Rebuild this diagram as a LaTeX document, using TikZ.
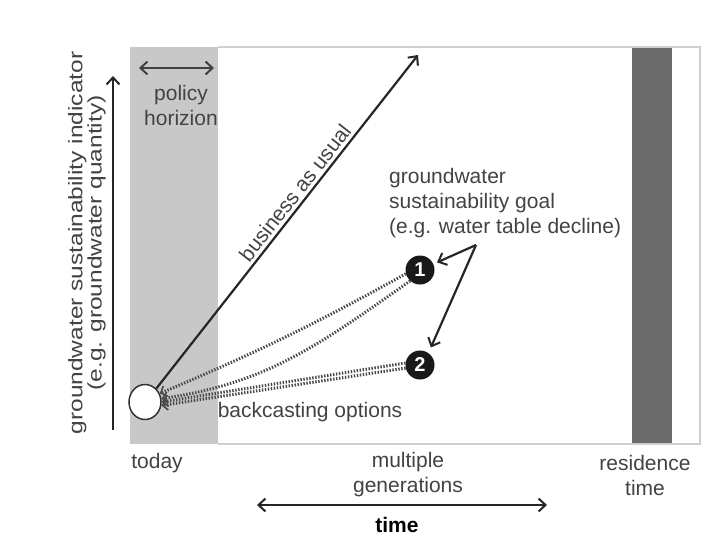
\documentclass[tikz,border=0pt]{standalone}
\usepackage{fontspec}
\setmainfont{Liberation Sans}
\usetikzlibrary{arrows.meta}
\definecolor{txt}{HTML}{434343}
\definecolor{bandc}{HTML}{C8C8C8}
\definecolor{darkbar}{HTML}{6B6B6B}
\definecolor{framec}{HTML}{D0D0D0}
\definecolor{dotc}{HTML}{484848}
\tikzset{
  lbl/.style={inner sep=0pt, font=\fontsize{21}{25}\selectfont, text=txt},
  barb/.style={-{Straight Barb[length=7pt,width=13pt,line width=2pt]}},
  dbarb/.style={{Straight Barb[length=7pt,width=13pt,line width=2pt]}-{Straight Barb[length=7pt,width=13pt,line width=2pt]}},
  solidline/.style={line width=2.2pt, draw=black!85},
  dotline/.style={line width=3pt, draw=dotc, dash pattern=on 1.4pt off 1.6pt,
    -{Straight Barb[length=5pt,width=11pt,line width=1.6pt]}},
  goalnode/.style={circle, fill=black!90, minimum size=29pt, inner sep=0pt,
    text=white, font=\fontsize{20}{20}\selectfont\bfseries},
  startnode/.style={ellipse, draw=black!80, line width=1.5pt, fill=white, minimum width=32pt, minimum height=35pt, inner sep=0pt}
}
\usetikzlibrary{shapes.geometric}
\begin{document}
\begin{tikzpicture}[x=1pt,y=-1pt]
\useasboundingbox (0,0) rectangle (714,535);
\fill[white] (0,0) rectangle (714,535);
% background bands and frame
\fill[bandc] (130,47) rectangle (218,444);
\fill[darkbar] (632,47) rectangle (672,444);
\draw[framec, line width=1.2pt] (218,47) -- (700,47) -- (700,444) -- (218,444);

% y axis
\coordinate (ybot) at (113,430);
\coordinate (ytop) at (113,76);
\draw[solidline, barb] (ybot) -- (ytop);
\node[lbl, rotate=90, align=center] (ylab) at (87,243)
  {\scalebox{1}[0.8]{\parbox{420pt}{\centering\fontsize{24.5}{24}\selectfont groundwater sustainability indicator\\(e.g. groundwater quantity)}}};

% policy horizon
\coordinate (pl) at (139,68);
\coordinate (pr) at (214,68);
\draw[solidline, draw=black!75, dbarb] (pl) -- (pr);
\node[lbl, align=center] (pol) at (181,105) {policy\\horizion};

% start and goals
\node[startnode] (c0) at (145,402) {};
\node[goalnode] (n1) at (420,270) {1};
\node[goalnode] (n2) at (420,365) {2};

% business as usual
\coordinate (bau) at (418,55);
\draw[solidline, barb] (c0.50) -- (bau)
  node[lbl, pos=0.565, above=3pt, sloped] (baulab) {business as usual};

% goal label and pointers
\node[lbl, align=left, anchor=west] (goal) at (389,203)
  {groundwater\\sustainability goal\\(e.g. water table decline)};
\coordinate (gp) at (476,245);
\draw[solidline, barb, shorten >=4pt] (gp) -- (n1);
\draw[solidline, barb, shorten >=6pt] (gp) -- (n2.55);

% backcasting options
\draw[dotline] (n1.195) to[bend left=3] (c0.30);
\draw[dotline] (n1.228) to[out=215, in=8] (c0.12);
\draw[dotline] (n2.172) -- (c0.0);
\draw[dotline] (n2.192) -- (c0.-12);
\node[lbl] (back) at (310,412) {backcasting options};

% bottom labels
\node[lbl, anchor=base] (today) at (157,468) {today};
\node[lbl, align=center] (multi) at (408,475) {multiple\\generations};
\node[lbl, align=center] (resid) at (645,475) {residence\\time};
\coordinate (tl) at (257,505);
\coordinate (tr) at (547,505);
\draw[line width=2.4pt, draw=black!85, dbarb] (tl) -- (tr);
\node[lbl, anchor=base, text=black, font=\fontsize{21}{25}\selectfont\bfseries] (time) at (397,532) {time};
\end{tikzpicture}
\end{document}
